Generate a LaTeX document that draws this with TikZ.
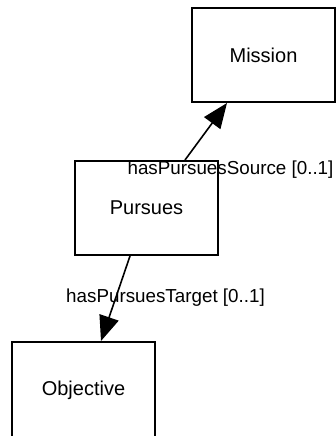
\documentclass[tikz,border=0pt]{standalone}
\usepackage{fontspec}
\setmainfont{Liberation Sans}
\usetikzlibrary{arrows.meta}
\begin{document}
\begin{tikzpicture}[x=1pt,y=-1pt,
  cls/.style={draw=black,line width=2pt,fill=white,minimum width=143pt,minimum height=94pt,inner sep=0pt,font=\fontsize{20}{22}\selectfont},
  rel/.style={line width=1.6pt,-{Triangle[length=25pt,width=20pt]}},
  lbl/.style={inner sep=0pt,font=\fontsize{18.8}{21}\selectfont}]
\useasboundingbox (0,0) rectangle (335,436);
\node[cls] (mission) at (263.5,55) {Mission};
\node[cls] (pursues) at (146.5,208) {Pursues};
\node[cls,minimum height=96pt] (objective) at (83.5,390) {Objective};
\draw[rel] ([xshift=38.5pt]pursues.north) -- ([xshift=-36.5pt]mission.south);
\draw[rel] ([xshift=-16.5pt]pursues.south) -- ([xshift=17.5pt]objective.north);
\node[lbl] (srclbl) at (230.5,170) {hasPursuesSource [0..1]};
\node[lbl] (tgtlbl) at (165.5,298) {hasPursuesTarget [0..1]};
\end{tikzpicture}
\end{document}
